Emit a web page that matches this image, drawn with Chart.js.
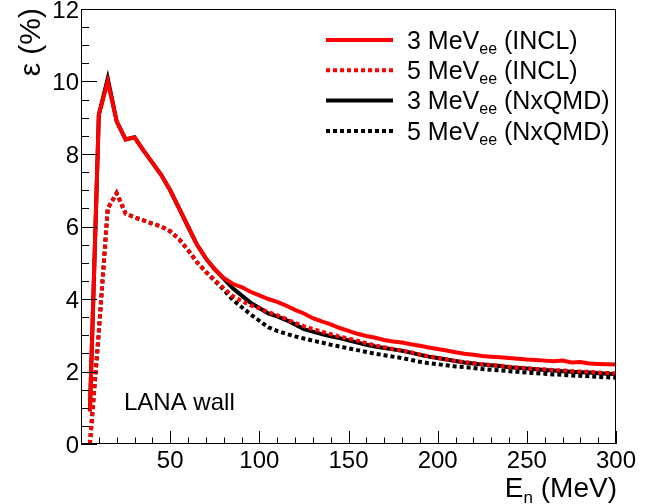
<!DOCTYPE html>
<html>
<head>
<meta charset="utf-8">
<script src="https://cdn.jsdelivr.net/npm/chart.js@4.4.1/dist/chart.umd.min.js"></script>
<style>
	html, body { margin: 0; padding: 0; background: #fff; }
	#graficoEficiencia { display: block; }
</style>
</head>
<body>
<canvas id="graficoEficiencia" width="662" height="504"></canvas>
<script>
// energia do neutron (MeV)
var energias = [5, 10, 15, 20, 25, 30, 35, 40, 45, 50, 55, 60, 65, 70, 75, 80, 85, 90, 95, 100,
	105, 110, 115, 120, 125, 130, 135, 140, 145, 150, 155, 160, 165, 170, 175, 180, 185, 190, 195, 200,
	205, 210, 215, 220, 225, 230, 235, 240, 245, 250, 255, 260, 265, 270, 275, 280, 285, 290, 295, 300];

// eficiencia (%)
var incl3MeV = [0.9, 9.08, 10.0, 8.9, 8.4, 8.46, 8.1, 7.76, 7.42, 7.0, 6.5, 6.0, 5.5, 5.12, 4.82, 4.58, 4.42, 4.33, 4.2, 4.1,
	4.0, 3.92, 3.82, 3.7, 3.6, 3.47, 3.38, 3.3, 3.2, 3.12, 3.04, 2.98, 2.93, 2.87, 2.83, 2.8, 2.75, 2.71, 2.66, 2.62,
	2.58, 2.53, 2.49, 2.46, 2.43, 2.41, 2.39, 2.37, 2.35, 2.33, 2.32, 2.3, 2.28, 2.3, 2.25, 2.26, 2.22, 2.21, 2.2, 2.19];
var incl5MeV = [0, 3.1, 6.5, 6.92, 6.36, 6.25, 6.17, 6.08, 6.0, 5.87, 5.65, 5.35, 5.02, 4.75, 4.52, 4.3, 4.08, 3.95, 3.83, 3.74,
	3.64, 3.55, 3.45, 3.34, 3.25, 3.17, 3.1, 3.03, 2.96, 2.91, 2.85, 2.78, 2.72, 2.67, 2.62, 2.58, 2.53, 2.47, 2.42, 2.37,
	2.33, 2.29, 2.26, 2.23, 2.2, 2.18, 2.16, 2.13, 2.11, 2.09, 2.07, 2.06, 2.04, 2.03, 2.01, 2.0, 1.99, 1.97, 1.96, 1.95];
var nxqmd3MeV = [0.9, 9.08, 10.08, 8.9, 8.4, 8.46, 8.1, 7.76, 7.42, 7.0, 6.5, 6.0, 5.5, 5.12, 4.82, 4.56, 4.3, 4.1, 3.9, 3.75,
	3.6, 3.52, 3.42, 3.3, 3.17, 3.1, 3.03, 2.97, 2.92, 2.86, 2.8, 2.74, 2.69, 2.65, 2.61, 2.57, 2.52, 2.46, 2.41, 2.37,
	2.33, 2.29, 2.25, 2.22, 2.19, 2.17, 2.15, 2.12, 2.1, 2.08, 2.06, 2.04, 2.03, 2.01, 1.99, 1.98, 1.97, 1.95, 1.94, 1.93];
var nxqmd5MeV = [0, 3.1, 6.5, 6.92, 6.36, 6.25, 6.17, 6.08, 6.0, 5.87, 5.65, 5.35, 5.02, 4.75, 4.5, 4.26, 3.98, 3.78, 3.58, 3.4,
	3.22, 3.12, 3.04, 2.97, 2.91, 2.85, 2.8, 2.74, 2.69, 2.64, 2.59, 2.54, 2.49, 2.45, 2.41, 2.37, 2.32, 2.27, 2.23, 2.2,
	2.17, 2.14, 2.12, 2.1, 2.07, 2.05, 2.03, 2.01, 1.99, 1.97, 1.95, 1.94, 1.92, 1.91, 1.89, 1.88, 1.87, 1.85, 1.84, 1.83];

var ticksX = [50, 100, 150, 200, 250, 300];
var ticksY = [0, 2, 4, 6, 8, 10, 12];

var legendas = ['3 MeV', '5 MeV', '3 MeV', '5 MeV'];
var modelos = ['(INCL)', '(INCL)', '(NxQMD)', '(NxQMD)'];

var FONTE = '"Liberation Sans", Arial, Helvetica, sans-serif';

function pontos(valores) {
	return energias.map(function(e, i) {
		return { x: e, y: valores[i] };
	});
}

// escreve texto com partes em subscrito, retorna largura
function escreveComIndice(ctx, partes, x, y, tamanho, medirApenas) {
	var largura = 0;
	partes.forEach(function(p) {
		var t = p.sub ? Math.round(tamanho * 0.62) : tamanho;
		ctx.font = t + 'px ' + FONTE;
		if (!medirApenas) ctx.fillText(p.t, x + largura, y + (p.sub ? tamanho * 0.2 : 0));
		largura += ctx.measureText(p.t).width;
	});
	return largura;
}

var eixosRoot = {
	id: 'eixosRoot',
	afterDraw: function(chart) {
		var ctx = chart.ctx;
		var area = chart.chartArea;
		var x = chart.scales.x;
		var y = chart.scales.y;
		ctx.save();
		ctx.strokeStyle = '#000';
		ctx.fillStyle = '#000';
		ctx.lineWidth = 1;
		ctx.setLineDash([]);
		ctx.strokeRect(area.left + 0.5, area.top + 0.5, area.right - area.left - 1, area.bottom - area.top - 1);

		// marcas do eixo x (para dentro)
		ctx.beginPath();
		for (var v = 0; v <= 300; v += 10) {
			var px = Math.round(x.getPixelForValue(v)) + 0.5;
			var comp = (v % 50 === 0) ? 13 : 6.5;
			ctx.moveTo(px, area.bottom);
			ctx.lineTo(px, area.bottom - comp);
		}
		// marcas do eixo y
		for (var w = 0; w <= 12; w += 0.5) {
			var py = Math.round(y.getPixelForValue(w)) + 0.5;
			var c = (w % 2 === 0) ? 16 : 8;
			ctx.moveTo(area.left, py);
			ctx.lineTo(area.left + c, py);
		}
		ctx.stroke();

		ctx.font = '24px ' + FONTE;
		ctx.textAlign = 'center';
		ctx.textBaseline = 'alphabetic';
		ticksX.forEach(function(t) {
			ctx.fillText(String(t), x.getPixelForValue(t), 468);
		});
		ctx.textAlign = 'right';
		ticksY.forEach(function(t) {
			ctx.fillText(String(t), 79, y.getPixelForValue(t) + 8.5);
		});

		// titulo eixo x
		ctx.textAlign = 'left';
		var tituloX = [{ t: 'E' }, { t: 'n', sub: true }, { t: ' (MeV)' }];
		var larg = escreveComIndice(ctx, tituloX, 0, 0, 28, true);
		escreveComIndice(ctx, tituloX, area.right + 1 - larg, 497, 28);

		// titulo eixo y
		ctx.save();
		ctx.translate(40, 8);
		ctx.rotate(-Math.PI / 2);
		ctx.textAlign = 'right';
		ctx.font = '30px ' + FONTE;
		ctx.fillText('\u03b5 (%)', 0, 0);
		ctx.restore();

		ctx.textAlign = 'left';
		ctx.font = '24px ' + FONTE;
		ctx.fillText('LANA wall', 124, 410);

		// legenda
		chart.data.datasets.forEach(function(ds, i) {
			var ly = 40 + i * 30.3;
			ctx.save();
			ctx.strokeStyle = ds.borderColor;
			ctx.lineWidth = ds.borderWidth;
			ctx.setLineDash(ds.borderDash || []);
			ctx.beginPath();
			ctx.moveTo(326, ly);
			ctx.lineTo(393, ly);
			ctx.stroke();
			ctx.restore();
			ctx.fillStyle = '#000';
			escreveComIndice(ctx, [{ t: legendas[i] }, { t: 'ee', sub: true }, { t: ' ' + modelos[i] }], 407, ly + 8.6, 25);
		});
		ctx.restore();
	}
};

var grafico = new Chart(document.getElementById('graficoEficiencia').getContext('2d'), {
	type: 'line',
	data: {
		datasets: [{
			label: legendas[0] + ' ' + modelos[0],
			data: pontos(incl3MeV),
			borderColor: '#ff0000',
			borderWidth: 4
		}, {
			label: legendas[1] + ' ' + modelos[1],
			data: pontos(incl5MeV),
			borderColor: '#ff0000',
			borderWidth: 4,
			borderDash: [4, 3]
		}, {
			label: legendas[2] + ' ' + modelos[2],
			data: pontos(nxqmd3MeV),
			borderColor: '#000000',
			borderWidth: 4
		}, {
			label: legendas[3] + ' ' + modelos[3],
			data: pontos(nxqmd5MeV),
			borderColor: '#000000',
			borderWidth: 4,
			borderDash: [4, 3]
		}]
	},
	options: {
		responsive: false,
		animation: false,
		devicePixelRatio: 1,
		layout: { padding: { left: 81, right: 46, top: 9, bottom: 60 } },
		elements: {
			point: { radius: 0 },
			line: { tension: 0, borderJoinStyle: 'miter', borderCapStyle: 'butt' }
		},
		plugins: {
			legend: { display: false },
			tooltip: { enabled: false }
		},
		scales: {
			x: { type: 'linear', min: 0, max: 300, display: false },
			y: { type: 'linear', min: 0, max: 12, display: false }
		}
	},
	plugins: [eixosRoot]
});
</script>
</body>
</html>
